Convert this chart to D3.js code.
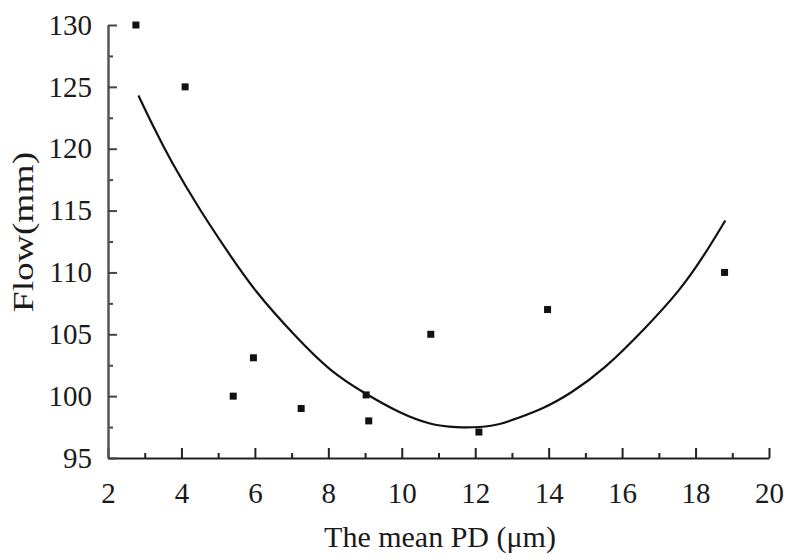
<!DOCTYPE html>
<html>
  <head>
    <title>Flow vs mean PD</title>
    <script src="https://d3js.org/d3.v7.min.js"></script>
    <style>
      body { margin: 0; background-color: #ffffff; }
      text { font-family: "Liberation Serif", "Times New Roman", serif; fill: #1a1a1a; }
    </style>
  </head>
  <body>
<script>
// measured points
var pdValues   = [2.76, 4.10, 5.41, 5.96, 7.26, 9.03, 9.10, 10.79, 12.10, 13.97, 18.79];
var flowValues = [130.0, 125.0, 100.0, 103.1, 99.0, 100.1, 98.0, 105.0, 97.1, 107.0, 110.0];

// fitted curve
var fitPD   = [2.83, 3.23, 3.69, 4.51, 5.23, 5.96, 7.14, 8.05, 9.00, 9.96, 10.77, 11.41, 12.50, 13.13, 13.86, 14.59, 15.49, 16.67, 17.59, 18.22, 18.81];
var fitFlow = [124.3, 121.8, 119.1, 115.0, 111.8, 108.6, 104.7, 102.0, 100.2, 98.6, 97.7, 97.45, 97.5, 98.2, 99.0, 100.2, 102.1, 105.6, 108.6, 111.3, 114.2];

var xTicks = [2, 4, 6, 8, 10, 12, 14, 16, 18, 20];
var yTicks = [95, 100, 105, 110, 115, 120, 125, 130];

//Width and height
var w = 785;
var h = 559;
var margin = {top: 25, right: 16, bottom: 101, left: 108};

var x = d3.scaleLinear().domain([2, 20]).range([margin.left, w - margin.right]);
var y = d3.scaleLinear().domain([95, 130]).range([h - margin.bottom, margin.top]);

var svg = d3.select("body")
  .append("svg")
  .attr("width", w)
  .attr("height", h);

// minor ticks first
svg.append("g")
  .attr("transform", "translate(0," + (h - margin.bottom) + ")")
  .call(d3.axisBottom(x).tickValues(d3.range(3, 20, 2)).tickSize(-5).tickFormat(""))
  .call(function(g) { g.select(".domain").remove(); })
  .selectAll("line").attr("stroke", "#222").attr("stroke-width", 2);

svg.append("g")
  .attr("transform", "translate(" + margin.left + ",0)")
  .call(d3.axisLeft(y).tickValues(d3.range(97.5, 130, 5)).tickSize(-5).tickFormat(""))
  .call(function(g) { g.select(".domain").remove(); })
  .selectAll("line").attr("stroke", "#444").attr("stroke-width", 2);

// x axis
var xAxis = svg.append("g")
  .attr("transform", "translate(0," + (h - margin.bottom) + ")")
  .call(d3.axisBottom(x).tickValues(xTicks).tickSizeInner(-10).tickSizeOuter(0).tickPadding(24));
xAxis.attr("font-family", "Liberation Serif").attr("font-size", 29);
xAxis.select(".domain").attr("stroke", "#222").attr("stroke-width", 2);
xAxis.selectAll("line").attr("stroke", "#222").attr("stroke-width", 2);
xAxis.selectAll("text").attr("fill", "#1a1a1a");

// y axis
var yAxis = svg.append("g")
  .attr("transform", "translate(" + margin.left + ",0)")
  .call(d3.axisLeft(y).tickValues(yTicks).tickSizeInner(-9).tickSizeOuter(0).tickPadding(16));
yAxis.attr("font-family", "Liberation Serif").attr("font-size", 29);
yAxis.select(".domain").attr("stroke", "#555").attr("stroke-width", 2.5);
yAxis.selectAll("line").attr("stroke", "#444").attr("stroke-width", 2);
yAxis.selectAll("text").attr("fill", "#1a1a1a");

// fitted curve
var fitData = fitPD.map(function(d, i) { return [d, fitFlow[i]]; });
var line = d3.line()
  .x(function(d) { return x(d[0]); })
  .y(function(d) { return y(d[1]); })
  .curve(d3.curveBasis);

svg.append("path")
  .datum(fitData)
  .attr("d", line)
  .attr("fill", "none")
  .attr("stroke", "#111")
  .attr("stroke-width", 2.2);

// points
svg.selectAll("rect.pt")
  .data(pdValues)
  .enter()
  .append("rect")
  .attr("class", "pt")
  .attr("x", function(d) { return x(d) - 3.5; })
  .attr("y", function(d, i) { return y(flowValues[i]) - 3.5; })
  .attr("width", 7)
  .attr("height", 7)
  .attr("fill", "#111");

// axis titles
svg.append("text")
  .attr("x", 440)
  .attr("y", 547)
  .attr("text-anchor", "middle")
  .style("font-size", "30px")
  .text("The mean PD (\u03bcm)");

svg.append("text")
  .attr("transform", "translate(33,232) rotate(-90) scale(1.25,1)")
  .attr("text-anchor", "middle")
  .style("font-size", "30px")
  .text("Flow(mm)");
</script>
  </body>
</html>
